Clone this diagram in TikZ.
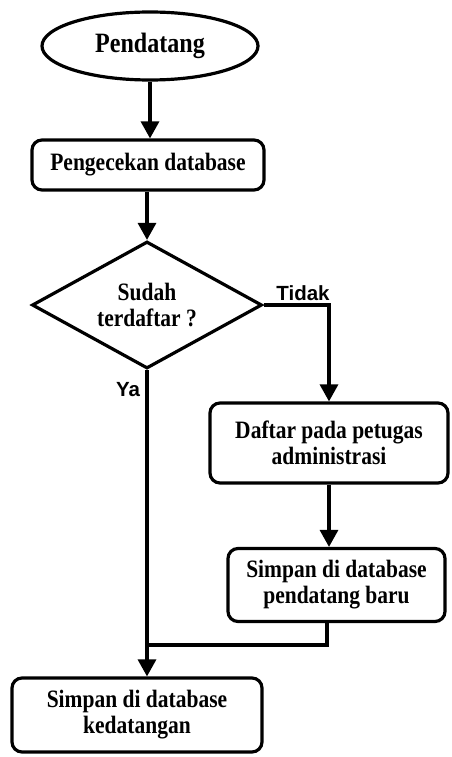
\documentclass[tikz,border=0pt]{standalone}
\usepackage{fontspec}
\setmainfont{Liberation Serif}[FakeStretch=0.86]
\newfontfamily\labelfont{Liberation Sans}
\usetikzlibrary{shapes.geometric,arrows.meta}

\begin{document}
\begin{tikzpicture}[x=1pt,y=-1pt,
  every node/.style={inner sep=0pt, align=center},
  boxtext/.style={font=\fontsize{25}{26}\selectfont\bfseries},
  procbox/.style={draw, line width=3.2pt, rounded corners=10pt, boxtext},
  flow/.style={line width=3.2pt, -{Triangle[width=18pt,length=17pt]}},
  link/.style={line width=3.2pt},
  branch/.style={font=\labelfont\fontsize{20.5}{22}\selectfont\bfseries}
]
\useasboundingbox (0,0) rectangle (452,757);

% shapes of the flow
\node[draw, ellipse, line width=3.2pt, minimum width=216pt, minimum height=68pt,
      font=\fontsize{28}{30}\selectfont\bfseries] (start) at (150,46) {Pendatang};
\node[procbox, minimum width=232pt, minimum height=50pt] (check) at (148,165) {Pengecekan database};
\node[draw, diamond, aspect=1.8, line width=3.2pt, minimum width=230pt, minimum height=127pt,
      boxtext] (decide) at (147,305) {Sudah\\terdaftar ?};
\node[procbox, minimum width=238pt, minimum height=80pt] (register) at (329,443) {Daftar pada petugas\\administrasi};
\node[procbox, minimum width=217pt, minimum height=73pt] (storenew) at (336.5,585) {Simpan di database\\pendatang baru};
\node[procbox, minimum width=250pt, minimum height=74pt] (storeall) at (137,715) {Simpan di database\\kedatangan};

% connectors
\coordinate (turn) at (329,305);
\coordinate (outnew) at (327,621);
\coordinate (merge) at (147,645);

\draw[flow] (start.south) -- (start.south |- check.north);
\draw[flow] (check.south -| decide.north) -- (decide.north);
\draw[flow] (decide.east) -- (turn) -- (turn |- register.north);
\draw[flow] (register.south -| turn) -- (turn |- storenew.north);
\draw[link] (outnew) -- (outnew |- merge) -- (merge);
\draw[flow] (decide.south) -- (decide.south |- storeall.north);

% branch labels
\node[branch] (no) at (303,293) {Tidak};
\node[branch] (yes) at (128,390) {Ya};
\end{tikzpicture}
\end{document}
